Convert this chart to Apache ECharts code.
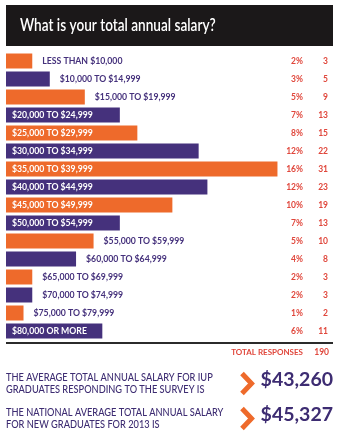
<!DOCTYPE html>
<html>
<head>
<meta charset="utf-8">
<style>
  html, body { margin: 0; padding: 0; background: #ffffff; }
  #chart { width: 343px; height: 440px; }
</style>
<script src="https://cdn.jsdelivr.net/npm/echarts@6/dist/echarts.min.js"></script>
</head>
<body>
<div id="chart"></div>
<script>
// Salary brackets, response counts and share of responses
const brackets = [
  'LESS THAN $10,000', '$10,000 TO $14,999', '$15,000 TO $19,999', '$20,000 TO $24,999',
  '$25,000 TO $29,999', '$30,000 TO $34,999', '$35,000 TO $39,999', '$40,000 TO $44,999',
  '$45,000 TO $49,999', '$50,000 TO $54,999', '$55,000 TO $59,999', '$60,000 TO $64,999',
  '$65,000 TO $69,999', '$70,000 TO $74,999', '$75,000 TO $79,999', '$80,000 OR MORE'
];
const responses = [3, 5, 9, 13, 15, 22, 31, 23, 19, 13, 10, 8, 3, 3, 2, 11];
const percents = ['2%', '3%', '5%', '7%', '8%', '12%', '16%', '12%', '10%', '7%', '5%', '4%', '2%', '2%', '1%', '6%'];
const totalResponses = 190;
const titleText = 'What is your total annual salary?';
const summaryLines = [
  ['THE AVERAGE TOTAL ANNUAL SALARY FOR IUP', 'GRADUATES RESPONDING TO THE SURVEY IS'],
  ['THE NATIONAL AVERAGE TOTAL ANNUAL SALARY', 'FOR NEW GRADUATES FOR 2013 IS']
];
const summaryValues = ['$43,260', '$45,327'];

const ORANGE = '#ee6a2b';
const PURPLE = '#45317c';
const INK = '#3d2c72';
const RED = '#e0473c';
const FONT = 'Lato, "Open Sans", sans-serif';

const AXIS_MAX = 37;
const GRID_LEFT = 6;
const GRID_WIDTH = 324;
const LABEL_FONT_SIZE = 8.7;

// Decide whether a bracket label fits inside its bar
const measureCtx = document.createElement('canvas').getContext('2d');
measureCtx.font = 'bold ' + LABEL_FONT_SIZE + 'px ' + FONT;
function fitsInside(text, value) {
  const barPx = value / AXIS_MAX * GRID_WIDTH;
  return measureCtx.measureText(text).width + 12 < barPx;
}

const barData = responses.map((v, i) => {
  const inside = fitsInside(brackets[i], v);
  return {
    value: v,
    itemStyle: { color: i % 2 === 0 ? ORANGE : PURPLE },
    label: {
      show: true,
      position: inside ? 'insideLeft' : 'right',
      distance: inside ? 6 : 10,
      color: inside ? '#ffffff' : PURPLE,
      formatter: brackets[i]
    }
  };
});

const chart = echarts.init(document.getElementById('chart'), null, { renderer: 'canvas' });

// Summary block: two-line statement, orange chevron, large figure
const summaryGraphics = [];
summaryLines.forEach((lines, k) => {
  const top = 377.5 + k * 35;
  lines.forEach((t, j) => {
    summaryGraphics.push({
      type: 'text', x: 6, y: top + j * 12, scaleX: 0.88,
      style: { x: 0, y: 0, text: t, fill: INK, font: '500 10.5px ' + FONT, verticalAlign: 'middle' }
    });
  });
  summaryGraphics.push({
    type: 'polyline',
    shape: { points: [[242, top - 4], [251.5, top + 6], [242, top + 16]] },
    style: { stroke: ORANGE, lineWidth: 5, fill: null, lineJoin: 'miter' }
  });
  summaryGraphics.push({
    type: 'text', x: 333, y: top + 2,
    style: { x: 0, y: 0, text: summaryValues[k], fill: INK, font: 'bold 19.5px ' + FONT, align: 'right', verticalAlign: 'middle' }
  });
});

chart.setOption({
  animation: false,
  backgroundColor: '#ffffff',
  grid: { left: GRID_LEFT, width: GRID_WIDTH, top: 52, height: 288, containLabel: false },
  xAxis: { type: 'value', min: 0, max: AXIS_MAX, show: false },
  yAxis: [
    { type: 'category', data: brackets, inverse: true, show: false },
    {
      type: 'category', data: percents, inverse: true, position: 'right',
      axisLine: { show: false }, axisTick: { show: false },
      axisLabel: { inside: true, align: 'right', margin: 27, color: RED, fontSize: 8.5, fontFamily: FONT, fontWeight: 'bold' }
    },
    {
      type: 'category', data: responses, inverse: true, position: 'right',
      axisLine: { show: false }, axisTick: { show: false },
      axisLabel: { inside: true, align: 'right', margin: 2, color: RED, fontSize: 8.5, fontFamily: FONT, fontWeight: 'bold' }
    }
  ],
  series: [{
    type: 'bar',
    yAxisIndex: 0,
    data: barData,
    barWidth: 15,
    label: { fontSize: LABEL_FONT_SIZE, fontFamily: FONT, fontWeight: 'bold' }
  }],
  graphic: [
    {
      type: 'rect', shape: { x: 6, y: 5, width: 327, height: 41 },
      style: { fill: '#1b1819' }
    },
    {
      type: 'text', x: 20, y: 26, scaleX: 0.8,
      style: { x: 0, y: 0, text: titleText, fill: '#ffffff', font: '600 17px ' + FONT, verticalAlign: 'middle' }
    },
    {
      type: 'line', shape: { x1: 6, y1: 343, x2: 333, y2: 343 },
      style: { stroke: '#2b2b2b', lineWidth: 2 }
    },
    {
      type: 'text', x: 303, y: 352.5,
      style: { x: 0, y: 0, text: 'TOTAL RESPONSES', fill: RED, font: 'bold 8px ' + FONT, align: 'right', verticalAlign: 'middle' }
    },
    {
      type: 'text', x: 329, y: 352.5,
      style: { x: 0, y: 0, text: String(totalResponses), fill: RED, font: 'bold 8.5px ' + FONT, align: 'right', verticalAlign: 'middle' }
    }
  ].concat(summaryGraphics)
});
</script>
</body>
</html>
